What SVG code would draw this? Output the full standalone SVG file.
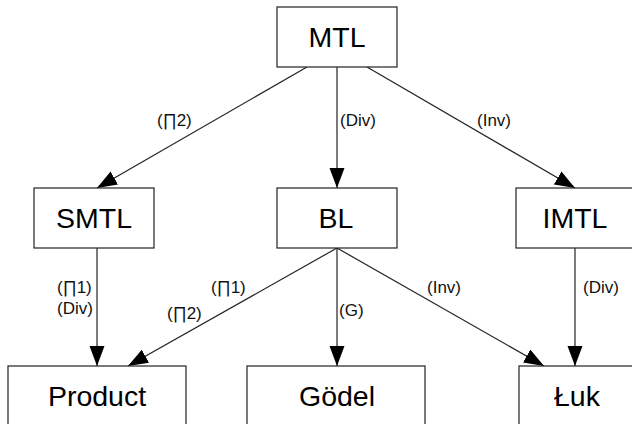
<svg xmlns="http://www.w3.org/2000/svg" width="632" height="424" viewBox="0 0 632 424">
<style>
.box{fill:#fff;stroke:#222;stroke-width:1.2}
.nt{font-family:"Liberation Sans",Arial,sans-serif;font-size:28.5px;fill:#000;text-anchor:middle}
.lb{font-family:"Liberation Sans",Arial,sans-serif;font-size:17px;fill:#111}
.ln{stroke:#222;stroke-width:1.2;fill:none;marker-end:url(#ah)}
</style>
<defs>
<marker id="ah" markerUnits="userSpaceOnUse" markerWidth="20" markerHeight="16" refX="20" refY="7.5" orient="auto">
<path d="M0,0 L20,7.5 L0,15 z" fill="#000"/>
</marker>
</defs>
<rect width="632" height="424" fill="#fff"/>
<g id="connectors">
<line class="ln" x1="307" y1="67" x2="97" y2="188"/>
<line class="ln" x1="337" y1="67" x2="337" y2="188"/>
<line class="ln" x1="367" y1="67" x2="575" y2="188"/>
<line class="ln" x1="97" y1="248" x2="97" y2="366"/>
<line class="ln" x1="337" y1="248" x2="128" y2="366"/>
<line class="ln" x1="337" y1="248" x2="337" y2="366"/>
<line class="ln" x1="337" y1="248" x2="544" y2="366"/>
<line class="ln" x1="575" y1="248" x2="575" y2="366"/>
<text class="lb" x="157" y="126">(∏2)</text>
<text class="lb" x="340" y="126">(Div)</text>
<text class="lb" x="477" y="126">(Inv)</text>
<text class="lb" x="57" y="293">(∏1)</text>
<text class="lb" x="57" y="314">(Div)</text>
<text class="lb" x="211" y="293">(∏1)</text>
<text class="lb" x="167" y="319">(∏2)</text>
<text class="lb" x="339" y="316">(G)</text>
<text class="lb" x="427" y="293">(Inv)</text>
<text class="lb" x="583" y="293">(Div)</text>
</g>
<g id="MTL"><rect class="box" x="277" y="7" width="120" height="60"/><text class="nt" x="337" y="47">MTL</text></g>
<g id="SMTL"><rect class="box" x="34" y="188" width="120" height="60"/><text class="nt" x="94" y="228">SMTL</text></g>
<g id="BL"><rect class="box" x="277" y="188" width="120" height="60"/><text class="nt" x="336" y="228">BL</text></g>
<g id="IMTL"><rect class="box" x="516" y="188" width="120" height="60"/><text class="nt" x="575" y="228">IMTL</text></g>
<g id="Product"><rect class="box" x="8" y="366" width="178" height="60"/><text class="nt" x="97" y="406">Product</text></g>
<g id="Godel"><rect class="box" x="247" y="366" width="178" height="60"/><text class="nt" x="337" y="406">Gödel</text></g>
<g id="Luk"><rect class="box" x="519" y="366" width="178" height="60"/><text class="nt" x="577" y="406">Łuk</text></g>
</svg>
